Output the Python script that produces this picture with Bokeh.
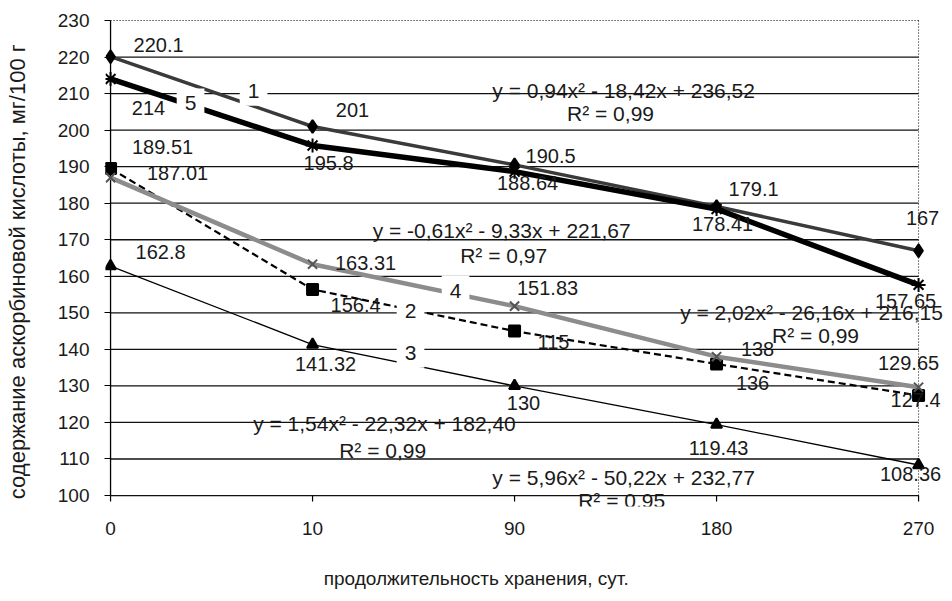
from bokeh.plotting import figure
from bokeh.models import (ColumnDataSource, LabelSet, Label, Range1d,
                          FixedTicker)
from bokeh.core.properties import value
from bokeh.embed import file_html
from bokeh.resources import INLINE

# ---------------- data ----------------
categories = ["0", "10", "90", "180", "270"]
xpos = [0, 1, 2, 3, 4]

s1 = [220.1, 201, 190.5, 179.1, 167]
s5 = [214, 195.8, 188.64, 178.41, 157.65]
s4 = [187.01, 163.31, 151.83, 138, 129.65]
s2 = [189.51, 156.4, 145, 136, 127.4]
s3 = [162.8, 141.32, 130, 119.43, 108.36]

s1_text = ["220.1", "201", "190.5", "179.1", "167"]
s5_text = ["214", "195.8", "188.64", "178.41", "157.65"]
s4_text = ["187.01", "163.31", "151.83", "138", "129.65"]
s2_text = ["189.51", "156.4", "115", "136", "127.4"]
s3_text = ["162.8", "141.32", "130", "119.43", "108.36"]

y_ticks = list(range(100, 231, 10))

eq_texts = [
    ("y = 0,94x² - 18,42x + 236,52", "R² = 0,99"),
    ("y = -0,61x² - 9,33x + 221,67", "R² = 0,97"),
    ("y = 2,02x² - 26,16x + 216,15", "R² = 0,99"),
    ("y = 1,54x² - 22,32x + 182,40", "R² = 0,99"),
    ("y = 5,96x² - 50,22x + 232,77", "R² = 0,95"),
]
series_names = ["1", "5", "4", "2", "3"]

y_title = "содержание аскорбиновой кислоты, мг/100 г"
x_title = "продолжительность хранения, сут."

# ---------------- layout / style ----------------
FONT = "Liberation Sans"
TXT = "#1a1a1a"
NBSP = "\u00a0"

off1 = [(48, -12), (40, -16), (36, -9), (37, -18), (4, -33)]
off5 = [(38, 29), (16, 18), (13, 11), (6, 15), (-13, 16)]
off4 = [(67, -5), (53, -1), (33, -18), (41, -8), (-10, -24)]
off2 = [(52, -21), (43, 16), (39, 11), (36, 19), (-3, 5)]
off3 = [(50, -14), (13, 19), (9, 17), (2, 23), (-8, 9)]

eq_pos = [((2.54, 210.8), (2.475, 204.5)),
          ((1.936, 172.5), (1.946, 165.7)),
          ((3.47, 150.1), (3.49, 143.8)),
          ((1.356, 119.7), (1.347, 112.3)),
          ((2.54, 104.9), (2.53, 98.6))]
name_pos = [(0.708, 210.8), (0.396, 207.3), (1.708, 156.1), (1.485, 150.6), (1.485, 139.1)]

W, H = 952, 601
p = figure(width=W, height=H, output_backend="svg", toolbar_location=None,
           x_range=Range1d(-0.025, 4.168), y_range=Range1d(97, 230.55),
           min_border_left=105, min_border_right=0, min_border_top=18,
           min_border_bottom=95)
p.outline_line_color = None
p.background_fill_color = "white"
p.grid.visible = False

# axes
p.xaxis.ticker = FixedTicker(ticks=xpos)
p.xaxis.major_label_overrides = {i: c for i, c in zip(xpos, categories)}
p.yaxis.ticker = FixedTicker(ticks=y_ticks)
for ax in (p.xaxis, p.yaxis):
    ax.major_label_text_font = FONT
    ax.major_label_text_font_size = "19px"
    ax.major_label_text_color = TXT
    ax.axis_line_color = None
    ax.minor_tick_line_color = None
    ax.axis_label_text_font = FONT
    ax.axis_label_text_font_style = "normal"
    ax.axis_label_text_color = TXT
p.xaxis.major_tick_line_color = None
p.xaxis.major_tick_out = 0
p.xaxis.major_tick_in = 0
p.xaxis.major_label_standoff = 15
# x title sits left of the frame centre in the reference: pad its right end
p.xaxis.axis_label = x_title + NBSP * 20
p.xaxis.axis_label_text_font_size = "19px"
p.xaxis.axis_label_standoff = 30

p.yaxis.major_tick_line_color = "black"
p.yaxis.major_tick_in = 5
p.yaxis.major_tick_out = 1
p.yaxis.major_label_standoff = 15
p.yaxis.axis_label = y_title + NBSP * 3
p.yaxis.axis_label_text_font_size = "22px"
p.yaxis.axis_label_standoff = 25

# grid lines, frame lines and category ticks drawn from the tick lists
x0, x1 = xpos[0], xpos[-1]
ybase, ytop = y_ticks[0], y_ticks[-1]
inner = [t for t in y_ticks if t < ytop]
p.segment(x0=[x0] * len(inner), y0=inner, x1=[x1] * len(inner), y1=inner,
          line_color="#111111", line_width=1.3)
p.segment(x0=[x0], y0=[ytop], x1=[x1], y1=[ytop],
          line_color="black", line_dash="1 2", line_width=1)
p.segment(x0=[x1], y0=[ybase], x1=[x1], y1=[ytop],
          line_color="black", line_dash="1 2", line_width=1)
p.segment(x0=[x0], y0=[ybase], x1=[x0], y1=[ytop],
          line_color="black", line_width=1.3)
tick_len = 1.6  # in y units (~6px)
p.segment(x0=xpos, y0=[ybase] * len(xpos), x1=xpos,
          y1=[ybase - tick_len] * len(xpos), line_color="black", line_width=1.2)

def series(vals, texts, offs, line_kw, marker, msize, mcolor="black"):
    src = ColumnDataSource(dict(x=xpos, y=vals, t=texts,
                                dx=[o[0] for o in offs],
                                dy=[-o[1] for o in offs]))
    p.line("x", "y", source=src, **line_kw)
    p.scatter("x", "y", source=src, marker=marker, size=msize,
              fill_color=mcolor, line_color=mcolor, line_width=2)
    return src

src3 = series(s3, s3_text, off3, dict(line_color="black", line_width=1.3), "triangle", 11)
src2 = series(s2, s2_text, off2, dict(line_color="black", line_width=2.2, line_dash="7 4"), "square", 11)
src4 = series(s4, s4_text, off4, dict(line_color="#8c8c8c", line_width=4.5), "x", 13, "#555555")
src1 = series(s1, s1_text, off1, dict(line_color="#3a3a3a", line_width=3.5), "diamond", 13)
src5 = series(s5, s5_text, off5, dict(line_color="black", line_width=5.5), "asterisk", 14)

for src in (src1, src5, src4, src2, src3):
    p.add_layout(LabelSet(x="x", y="y", text="t", source=src,
                          x_offset="dx", y_offset="dy",
                          text_align="center", text_baseline="middle",
                          text_font=value(FONT), text_font_size=value("20px"),
                          text_color=TXT))

for (l1, l2), (pa, pb) in zip(eq_texts, eq_pos):
    for txt, (lx, ly) in ((l1, pa), (l2, pb)):
        p.add_layout(Label(x=lx, y=ly, text=txt, text_align="center",
                           text_baseline="middle", text_font=FONT,
                           text_font_size="21px", text_color=TXT))

for name, (nx, ny) in zip(series_names, name_pos):
    p.add_layout(Label(x=nx, y=ny, text=name, text_align="center",
                       text_baseline="middle", text_font=FONT,
                       text_font_size="21px", text_color=TXT,
                       background_fill_color="white", padding=8))

open("out.html", "w").write(file_html(p, INLINE))
